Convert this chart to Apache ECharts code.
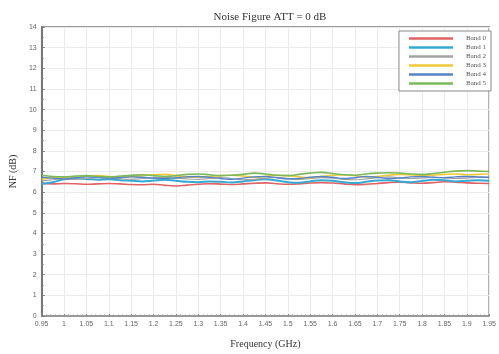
<!DOCTYPE html>
<html>
<head>
<meta charset="utf-8">
<script src="https://cdn.jsdelivr.net/npm/echarts@6/dist/echarts.min.js"></script>
<style>
  html, body { margin: 0; padding: 0; background: #fff; }
  #chart { width: 499px; height: 354px; }
</style>
</head>
<body>
<div id="chart"></div>
<script>
// Frequency sweep points (GHz)
const freq = [];
for (let i = 0; i <= 40; i++) freq.push(+(0.95 + i * 0.025).toFixed(3));

const bandNames = ['Band 0', 'Band 1', 'Band 2', 'Band 3', 'Band 4', 'Band 5'];
const bandColors = ['#e06262', '#35a9d2', '#a3a3a3', '#f0c93a', '#5583c6', '#79b95a'];
const bandWidths = [1.6, 2.0, 1.2, 1.6, 1.4, 1.6];

// Measured noise figure (dB) per band
const band0 = [6.42,6.40,6.42,6.41,6.38,6.40,6.42,6.40,6.37,6.36,6.38,6.33,6.30,6.34,6.38,6.41,6.39,6.37,6.40,6.43,6.45,6.41,6.38,6.40,6.44,6.46,6.44,6.40,6.36,6.38,6.42,6.46,6.48,6.45,6.43,6.46,6.50,6.48,6.45,6.43,6.42];
const band1 = [6.40,6.48,6.62,6.66,6.64,6.60,6.62,6.58,6.55,6.52,6.56,6.60,6.55,6.50,6.48,6.52,6.50,6.47,6.52,6.58,6.62,6.56,6.48,6.45,6.52,6.58,6.55,6.48,6.44,6.50,6.56,6.58,6.52,6.48,6.54,6.60,6.58,6.52,6.55,6.58,6.55];
const band2 = [6.55,6.60,6.65,6.62,6.66,6.70,6.68,6.64,6.62,6.66,6.70,6.72,6.68,6.64,6.62,6.66,6.70,6.66,6.60,6.62,6.68,6.72,6.66,6.62,6.66,6.70,6.68,6.62,6.60,6.64,6.70,6.74,6.70,6.66,6.68,6.72,6.70,6.66,6.68,6.72,6.70];
const band3 = [6.62,6.70,6.68,6.72,6.78,6.80,6.76,6.72,6.75,6.80,6.84,6.86,6.80,6.74,6.72,6.76,6.80,6.82,6.78,6.72,6.76,6.82,6.80,6.74,6.70,6.76,6.82,6.84,6.80,6.74,6.76,6.82,6.86,6.84,6.80,6.82,6.86,6.88,6.84,6.86,6.88];
const band4 = [6.72,6.68,6.64,6.70,6.74,6.72,6.68,6.70,6.74,6.72,6.68,6.66,6.70,6.74,6.76,6.72,6.66,6.62,6.68,6.74,6.76,6.70,6.64,6.66,6.72,6.76,6.72,6.66,6.70,6.76,6.72,6.66,6.68,6.74,6.76,6.72,6.70,6.74,6.76,6.74,6.72];
const band5 = [6.82,6.76,6.74,6.78,6.80,6.76,6.74,6.78,6.82,6.84,6.80,6.76,6.80,6.86,6.88,6.84,6.80,6.82,6.86,6.92,6.88,6.82,6.80,6.86,6.92,6.96,6.90,6.84,6.82,6.88,6.92,6.94,6.92,6.88,6.86,6.90,6.96,7.02,7.04,7.02,7.00];
const bands = [band0, band1, band2, band3, band4, band5];

const serif = 'Liberation Serif, DejaVu Serif, serif';

const chart = echarts.init(document.getElementById('chart'), null, { renderer: 'canvas' });

chart.setOption({
  animation: false,
  backgroundColor: '#fff',
  title: {
    text: 'Noise Figure ATT = 0 dB',
    left: 265, top: 7, textAlign: 'center',
    textStyle: { fontFamily: serif, fontSize: 11, fontWeight: 'normal', color: '#333' }
  },
  grid: { left: 37, right: 6, top: 27, bottom: 29, show: true, borderColor: '#777', borderWidth: 1.5 },
  legend: {
    orient: 'vertical', right: 8, top: 31,
    data: bandNames,
    icon: 'rect', itemWidth: 44, itemHeight: 2.5, itemGap: 2,
    padding: [4, 5, 4, 10],
    borderColor: '#888', borderWidth: 1, backgroundColor: '#fff',
    textStyle: { fontFamily: serif, fontSize: 7, color: '#555', padding: [0, 0, 0, 8] }
  },
  xAxis: {
    type: 'value', min: 0.95, max: 1.95, interval: 0.05,
    name: 'Frequency (GHz)', nameLocation: 'middle', nameGap: 23,
    nameTextStyle: { fontFamily: serif, fontSize: 10, color: '#333' },
    axisLine: { show: true, lineStyle: { color: '#999', width: 1 } },
    axisTick: { show: true, inside: true, length: 2, lineStyle: { color: '#888' } },
    minorTick: { show: true, splitNumber: 5, length: 1.5, lineStyle: { color: '#999' } },
    axisLabel: { fontSize: 7, color: '#666', margin: 5, formatter: v => String(parseFloat(v.toFixed(2))) },
    splitLine: { show: true, lineStyle: { color: '#ebebeb', width: 1 } }
  },
  yAxis: {
    type: 'value', min: 0, max: 14, interval: 1,
    name: 'NF (dB)', nameLocation: 'middle', nameGap: 17,
    nameTextStyle: { fontFamily: serif, fontSize: 10, color: '#333' },
    axisLine: { show: true, lineStyle: { color: '#777', width: 2 } },
    axisTick: { show: true, inside: true, length: 3, lineStyle: { color: '#777' } },
    minorTick: { show: true, splitNumber: 2, length: 2, lineStyle: { color: '#888' } },
    axisLabel: { fontSize: 7, color: '#666', margin: 5 },
    splitLine: { show: true, lineStyle: { color: '#ebebeb', width: 1 } }
  },
  series: bands.map((vals, i) => ({
    name: bandNames[i],
    type: 'line',
    smooth: 0.4,
    showSymbol: false,
    color: bandColors[i],
    lineStyle: { width: bandWidths[i], color: bandColors[i] },
    data: freq.map((f, j) => [f, vals[j]]),
    z: 2 + i
  }))
});
</script>
</body>
</html>
